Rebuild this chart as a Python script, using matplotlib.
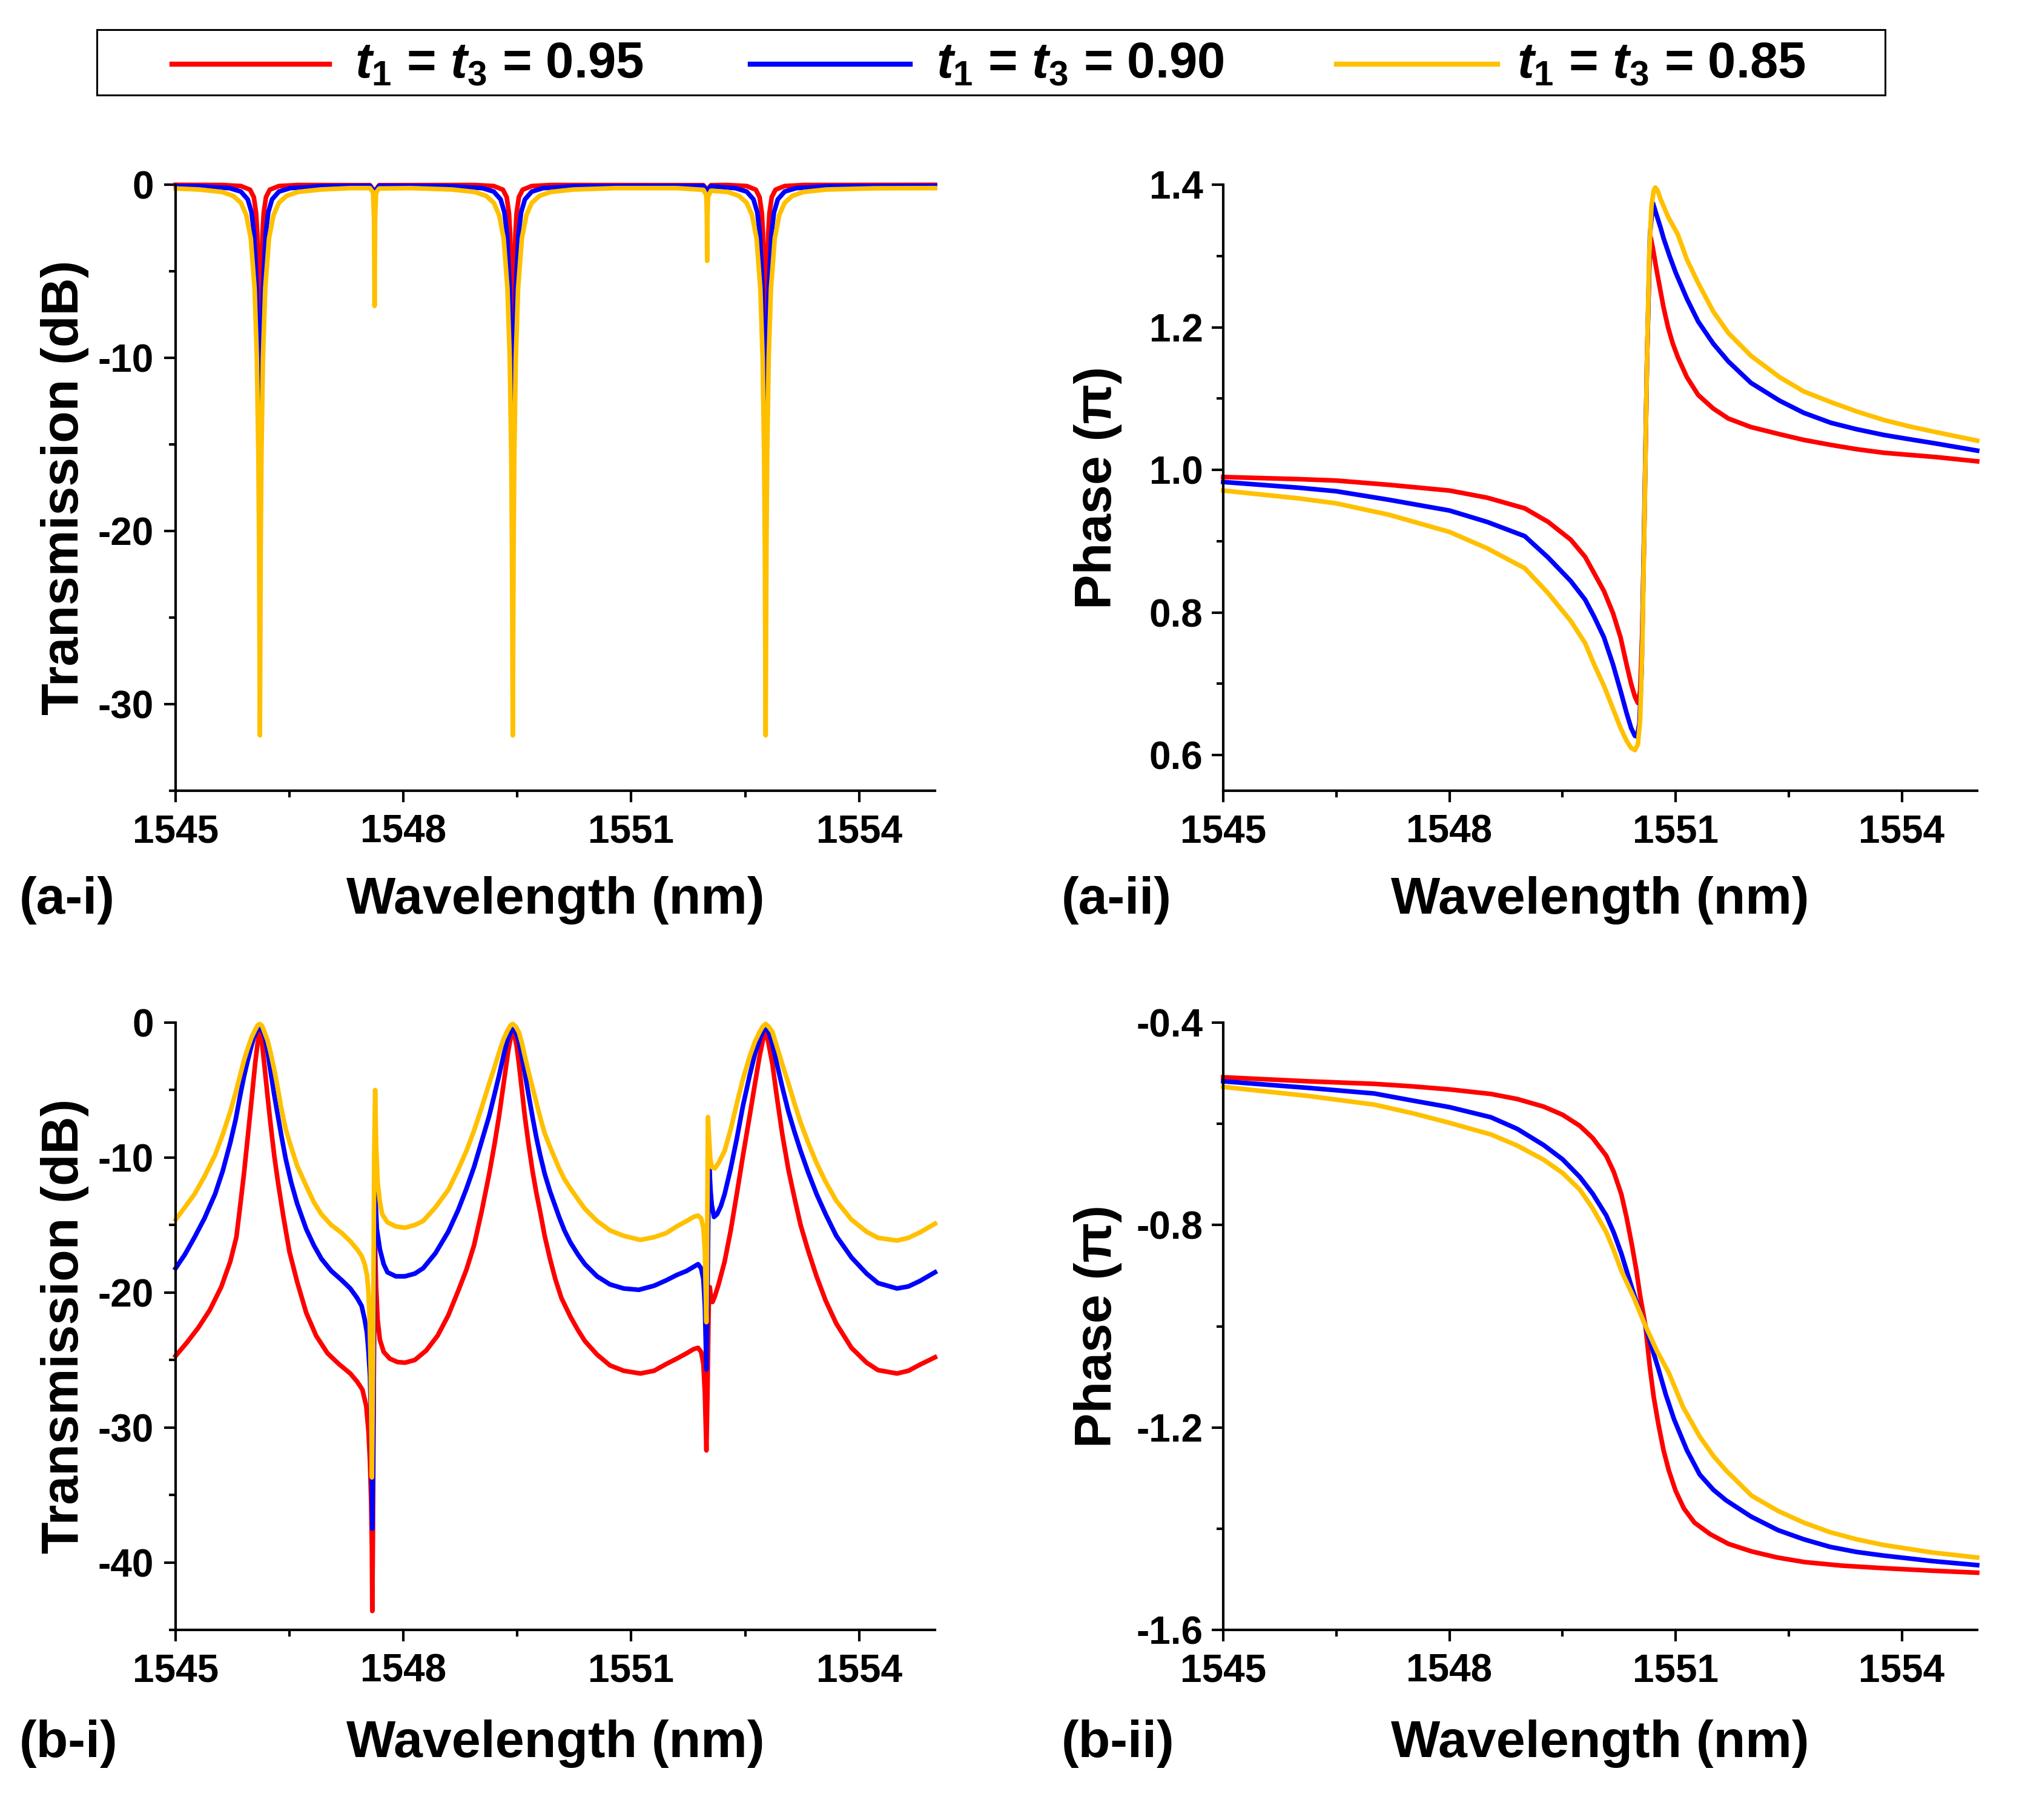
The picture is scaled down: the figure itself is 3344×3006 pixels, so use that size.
import matplotlib
matplotlib.use('Agg')
import matplotlib.pyplot as plt
from matplotlib.lines import Line2D
from matplotlib.patches import Rectangle
from matplotlib.ticker import FixedLocator

plt.rcParams['font.family'] = ['Liberation Sans', 'DejaVu Sans']
plt.rcParams['font.weight'] = 'bold'
plt.rcParams['axes.unicode_minus'] = False
plt.rcParams['mathtext.fontset'] = 'custom'
plt.rcParams['mathtext.it'] = 'Liberation Sans:bold:italic'
plt.rcParams['mathtext.rm'] = 'Liberation Sans:bold'
plt.rcParams['mathtext.bf'] = 'Liberation Sans:bold'

# ---------------- data ----------------
series_labels = [r'$\mathit{t_1}$ = $\mathit{t_3}$ = 0.95',
                 r'$\mathit{t_1}$ = $\mathit{t_3}$ = 0.90',
                 r'$\mathit{t_1}$ = $\mathit{t_3}$ = 0.85']
series_colors = ['#FF0000', '#0000FF', '#FFC000']

x_ticks = [1545, 1548, 1551, 1554]

# (a-i) transmission, dB
ai_red_x = [1545.0, 1545.61, 1545.86, 1545.98, 1546.03, 1546.06, 1546.075, 1546.085, 1546.095, 1546.103, 1546.11,
            1546.117, 1546.125, 1546.135, 1546.145, 1546.16, 1546.19, 1546.24, 1546.36, 1546.61, 1547.56, 1547.62,
            1547.68, 1548.94, 1549.19, 1549.31, 1549.36, 1549.39, 1549.405, 1549.415, 1549.425, 1549.433, 1549.44,
            1549.447, 1549.455, 1549.465, 1549.475, 1549.49, 1549.52, 1549.57, 1549.69, 1549.94, 1551.95, 1552.0,
            1552.05, 1552.27, 1552.52, 1552.64, 1552.69, 1552.72, 1552.735, 1552.745, 1552.755, 1552.763, 1552.77,
            1552.777, 1552.785, 1552.795, 1552.805, 1552.82, 1552.85, 1552.9, 1553.02, 1553.27, 1555.0]
ai_red_y = [-0.01, -0.02, -0.08, -0.29, -0.72, -1.64, -2.8, -4.35, -7.1, -10.9, -14.0,
            -10.9, -7.1, -4.35, -2.8, -1.64, -0.72, -0.29, -0.08, -0.02, -0.03, -0.4,
            -0.03, -0.02, -0.08, -0.29, -0.72, -1.64, -2.8, -4.35, -7.1, -10.9, -14.0,
            -10.9, -7.1, -4.35, -2.8, -1.64, -0.72, -0.29, -0.08, -0.02, -0.03, -0.3,
            -0.03, -0.02, -0.08, -0.29, -0.72, -1.64, -2.8, -4.35, -7.1, -10.9, -14.0,
            -10.9, -7.1, -4.35, -2.8, -1.64, -0.72, -0.29, -0.08, -0.02, -0.01]

ai_blue_x = [1545.0, 1545.31, 1545.71, 1545.86, 1545.95, 1546.0, 1546.035, 1546.07, 1546.09, 1546.10, 1546.11,
             1546.12, 1546.13, 1546.15, 1546.185, 1546.22, 1546.27, 1546.36, 1546.51, 1546.91, 1547.56, 1547.62,
             1547.68, 1548.64, 1549.04, 1549.19, 1549.28, 1549.33, 1549.365, 1549.40, 1549.42, 1549.43, 1549.44,
             1549.45, 1549.46, 1549.48, 1549.515, 1549.55, 1549.60, 1549.69, 1549.84, 1550.24, 1551.95, 1552.0,
             1552.05, 1552.37, 1552.52, 1552.61, 1552.66, 1552.695, 1552.73, 1552.75, 1552.76, 1552.77,
             1552.78, 1552.79, 1552.81, 1552.845, 1552.88, 1552.93, 1553.02, 1553.17, 1553.57, 1555.0]
ai_blue_y = [-0.08, -0.09, -0.2, -0.4, -0.85, -1.6, -2.9, -6.1, -10.1, -13.0, -14.8,
             -13.0, -10.1, -6.1, -2.9, -1.6, -0.85, -0.4, -0.2, -0.09, -0.07, -0.45,
             -0.07, -0.09, -0.2, -0.4, -0.85, -1.6, -2.9, -6.1, -10.1, -13.0, -14.8,
             -13.0, -10.1, -6.1, -2.9, -1.6, -0.85, -0.4, -0.2, -0.09, -0.08, -0.35,
             -0.09, -0.2, -0.4, -0.85, -1.6, -2.9, -6.1, -10.1, -13.0, -14.8,
             -13.0, -10.1, -6.1, -2.9, -1.6, -0.85, -0.4, -0.2, -0.09, -0.07]

ai_yel_x = [1545.0, 1545.31, 1545.61, 1545.76, 1545.86, 1545.93, 1545.99, 1546.04, 1546.07, 1546.09, 1546.10,
            1546.106, 1546.11, 1546.114, 1546.12, 1546.13, 1546.15, 1546.18, 1546.23, 1546.29, 1546.36, 1546.46,
            1546.61, 1546.91, 1547.3, 1547.56, 1547.60, 1547.613, 1547.62, 1547.627, 1547.64, 1547.68, 1548.1,
            1548.64, 1548.94, 1549.09, 1549.19, 1549.26, 1549.32, 1549.37, 1549.40, 1549.42, 1549.43, 1549.436,
            1549.44, 1549.444, 1549.45, 1549.46, 1549.48, 1549.51, 1549.56, 1549.62, 1549.69, 1549.79, 1549.94,
            1550.24, 1550.8, 1551.6, 1551.95, 1551.988, 1551.996, 1552.0, 1552.004, 1552.012, 1552.05, 1552.27,
            1552.42, 1552.52, 1552.59, 1552.65, 1552.70, 1552.73, 1552.75, 1552.76, 1552.766, 1552.77, 1552.774,
            1552.78, 1552.79, 1552.81, 1552.84, 1552.89, 1552.95, 1553.02, 1553.12, 1553.27, 1553.57, 1554.2,
            1555.0]
ai_yel_y = [-0.22, -0.28, -0.42, -0.65, -1.05, -1.75, -3.1, -6.0, -10.0, -15.6, -21.2,
            -27.5, -31.8, -27.5, -21.2, -15.6, -10.0, -6.0, -3.1, -1.75, -1.05, -0.65,
            -0.42, -0.28, -0.2, -0.2, -0.45, -2.0, -7.0, -2.0, -0.45, -0.22, -0.2,
            -0.28, -0.42, -0.65, -1.05, -1.75, -3.1, -6.0, -10.0, -15.6, -21.2, -27.5,
            -31.8, -27.5, -21.2, -15.6, -10.0, -6.0, -3.1, -1.75, -1.05, -0.65, -0.42,
            -0.28, -0.2, -0.2, -0.3, -0.6, -1.8, -4.4, -1.8, -0.7, -0.35, -0.42,
            -0.65, -1.05, -1.75, -3.1, -6.0, -10.0, -15.6, -21.2, -27.5, -31.8, -27.5,
            -21.2, -15.6, -10.0, -6.0, -3.1, -1.75, -1.05, -0.65, -0.42, -0.28, -0.21,
            -0.2]

# (a-ii) phase, units of pi
aii_red_x = [1545.0, 1546.0, 1546.5, 1547.2, 1548.0, 1548.5, 1549.0, 1549.31, 1549.61, 1549.8, 1549.92,
             1550.05, 1550.17, 1550.27, 1550.35, 1550.41, 1550.46, 1550.5, 1550.53, 1550.56, 1550.59, 1550.62,
             1550.65, 1550.67, 1550.7, 1550.74, 1550.78, 1550.84, 1550.9, 1550.96, 1551.03, 1551.15, 1551.3,
             1551.5, 1551.7, 1552.0, 1552.38, 1552.7, 1553.06, 1553.4, 1553.76, 1554.1, 1554.45, 1555.0]
aii_red_y = [0.990, 0.987, 0.985, 0.979, 0.971, 0.961, 0.946, 0.927, 0.902, 0.878, 0.855,
             0.830, 0.799, 0.765, 0.727, 0.700, 0.682, 0.673, 0.690, 0.780, 0.950, 1.150,
             1.280, 1.326, 1.310, 1.285, 1.262, 1.228, 1.200, 1.178, 1.158, 1.130, 1.105,
             1.086, 1.072, 1.060, 1.050, 1.042, 1.035, 1.029, 1.024, 1.021, 1.018, 1.012]
aii_blue_x = [1545.0, 1546.0, 1546.5, 1547.2, 1548.0, 1548.5, 1549.0, 1549.31, 1549.61, 1549.8, 1549.92,
              1550.05, 1550.17, 1550.27, 1550.35, 1550.41, 1550.46, 1550.49, 1550.52, 1550.55, 1550.58, 1550.62,
              1550.66, 1550.70, 1550.74, 1550.8, 1550.84, 1550.92, 1551.0, 1551.15, 1551.3, 1551.5, 1551.7,
              1552.0, 1552.38, 1552.7, 1553.06, 1553.4, 1553.76, 1554.1, 1554.45, 1555.0]
aii_blue_y = [0.983, 0.975, 0.970, 0.958, 0.943, 0.927, 0.907, 0.877, 0.844, 0.818, 0.794,
              0.765, 0.727, 0.690, 0.659, 0.638, 0.627, 0.626, 0.645, 0.720, 0.900, 1.150,
              1.330, 1.374, 1.360, 1.340, 1.325, 1.300, 1.277, 1.240, 1.208, 1.177, 1.152,
              1.122, 1.097, 1.080, 1.066, 1.057, 1.049, 1.043, 1.037, 1.027]
aii_yel_x = [1545.0, 1546.0, 1546.5, 1547.2, 1548.0, 1548.5, 1549.0, 1549.31, 1549.61, 1549.8, 1549.92,
             1550.05, 1550.17, 1550.27, 1550.35, 1550.41, 1550.46, 1550.5, 1550.53, 1550.56, 1550.59, 1550.62,
             1550.65, 1550.68, 1550.71, 1550.73, 1550.76, 1550.8, 1550.9, 1551.03, 1551.15, 1551.3, 1551.5,
             1551.7, 1552.0, 1552.38, 1552.7, 1553.06, 1553.4, 1553.76, 1554.1, 1554.45, 1555.0]
aii_yel_y = [0.971, 0.960, 0.953, 0.937, 0.913, 0.890, 0.862, 0.827, 0.788, 0.757, 0.727,
             0.697, 0.665, 0.638, 0.620, 0.610, 0.607, 0.615, 0.650, 0.760, 0.950, 1.150,
             1.300, 1.370, 1.392, 1.396, 1.392, 1.380, 1.355, 1.330, 1.295, 1.262, 1.222,
             1.192, 1.160, 1.130, 1.110, 1.095, 1.082, 1.070, 1.061, 1.053, 1.041]

# (b-i) transmission, dB
bi_red_x = [1545.0, 1545.15, 1545.3, 1545.45, 1545.6, 1545.72, 1545.8, 1545.85, 1545.9, 1545.95, 1545.99,
            1546.02, 1546.05, 1546.08, 1546.1, 1546.11, 1546.12, 1546.14, 1546.17, 1546.21, 1546.25, 1546.3,
            1546.35, 1546.42, 1546.5, 1546.6, 1546.72, 1546.85, 1547.0, 1547.15, 1547.3, 1547.39, 1547.46,
            1547.51, 1547.54, 1547.56, 1547.575, 1547.585, 1547.59, 1547.598, 1547.61, 1547.625, 1547.64,
            1547.66, 1547.69, 1547.74, 1547.82, 1547.92, 1548.02, 1548.15, 1548.3, 1548.45, 1548.59, 1548.72,
            1548.83, 1548.93, 1549.03, 1549.13, 1549.2, 1549.26, 1549.31, 1549.35, 1549.38, 1549.41, 1549.43,
            1549.44, 1549.46, 1549.49, 1549.52, 1549.56, 1549.6, 1549.65, 1549.7, 1549.75, 1549.8, 1549.86,
            1549.93, 1550.0, 1550.08, 1550.2, 1550.3, 1550.39, 1550.55, 1550.72, 1550.9, 1551.12, 1551.3,
            1551.46, 1551.6, 1551.73, 1551.82, 1551.88, 1551.92, 1551.95, 1551.97, 1551.99, 1552.005, 1552.02,
            1552.035, 1552.05, 1552.07, 1552.1, 1552.15, 1552.23, 1552.31, 1552.39, 1552.47, 1552.56, 1552.63,
            1552.69, 1552.73, 1552.76, 1552.77, 1552.78, 1552.81, 1552.86, 1552.92, 1552.99, 1553.07, 1553.15,
            1553.23, 1553.33, 1553.44, 1553.56, 1553.7, 1553.9, 1554.1, 1554.25, 1554.5, 1554.65, 1554.8, 1555.0]
bi_red_y = [-24.7, -23.7, -22.6, -21.3, -19.6, -17.7, -15.9, -13.6, -11.2, -8.5, -6.3,
            -4.6, -2.9, -1.5, -0.8, -0.6, -0.8, -1.6, -3.2, -5.4, -7.5, -9.9,
            -11.9, -14.4, -17.0, -19.2, -21.5, -23.2, -24.5, -25.3, -26.0, -26.6, -27.2,
            -28.4, -30.3, -32.6, -35.5, -39.0, -43.6, -38.0, -26.0, -16.0, -19.5,
            -22.0, -23.5, -24.4, -24.9, -25.15, -25.2, -25.0, -24.3, -23.2, -21.7, -19.9,
            -18.3, -16.5, -14.0, -11.2, -9.0, -6.9, -4.9, -3.3, -2.1, -1.2, -0.75,
            -0.6, -0.9, -1.7, -3.0, -5.0, -7.0, -9.1, -11.0, -12.6, -14.0, -15.8,
            -17.5, -19.0, -20.4, -21.8, -22.8, -23.6, -24.6, -25.4, -25.8, -26.0, -25.8,
            -25.3, -24.9, -24.5, -24.2, -24.1, -24.4, -25.3, -27.5, -31.7, -27.0, -21.0,
            -19.6, -20.4, -20.7, -20.3, -19.4, -17.7, -15.4, -12.7, -9.9, -6.9, -4.5,
            -2.5, -1.4, -0.7, -0.6, -0.7, -1.6, -3.1, -5.6, -8.3, -10.9, -13.0,
            -15.0, -16.9, -18.8, -20.6, -22.3, -24.1, -25.2, -25.75, -26.0, -25.8, -25.35, -24.8]

bi_blue_x = [1545.0, 1545.12, 1545.25, 1545.38, 1545.52, 1545.62, 1545.72, 1545.79, 1545.85, 1545.9, 1545.95,
             1545.99, 1546.03, 1546.07, 1546.11, 1546.15, 1546.18, 1546.21, 1546.25, 1546.3, 1546.35, 1546.39,
             1546.45, 1546.52, 1546.6, 1546.72, 1546.82, 1546.92, 1547.05, 1547.19, 1547.3, 1547.39, 1547.45,
             1547.49, 1547.52, 1547.54, 1547.56, 1547.575, 1547.59, 1547.6, 1547.613, 1547.625, 1547.635,
             1547.65, 1547.69, 1547.74, 1547.79, 1547.9, 1548.02, 1548.15, 1548.26, 1548.42, 1548.59, 1548.72,
             1548.83, 1548.93, 1549.03, 1549.13, 1549.2, 1549.26, 1549.32, 1549.36, 1549.39, 1549.44, 1549.48,
             1549.52, 1549.56, 1549.6, 1549.65, 1549.7, 1549.75, 1549.8, 1549.86, 1549.93, 1550.05, 1550.12,
             1550.2, 1550.3, 1550.39, 1550.55, 1550.72, 1550.9, 1551.1, 1551.3, 1551.46, 1551.6, 1551.73,
             1551.82, 1551.88, 1551.92, 1551.95, 1551.97, 1551.99, 1552.0, 1552.015, 1552.03, 1552.045, 1552.06,
             1552.09, 1552.13, 1552.18, 1552.23, 1552.31, 1552.39, 1552.47, 1552.56, 1552.63, 1552.69, 1552.73,
             1552.77, 1552.81, 1552.86, 1552.92, 1552.99, 1553.07, 1553.15, 1553.23, 1553.33, 1553.44, 1553.56,
             1553.7, 1553.9, 1554.1, 1554.25, 1554.5, 1554.65, 1554.8, 1555.0]
bi_blue_y = [-18.2, -17.2, -15.9, -14.5, -12.7, -11.0, -8.9, -7.2, -5.4, -4.0, -2.8,
             -1.9, -1.1, -0.6, -0.35, -0.7, -1.2, -2.1, -3.6, -5.4, -7.0, -8.3,
             -10.1, -11.8, -13.4, -15.3, -16.5, -17.5, -18.4, -19.1, -19.7, -20.4, -21.0,
             -22.0, -23.0, -24.4, -26.2, -30.0, -37.5, -33.0, -20.0, -11.8, -13.5,
             -15.3, -16.8, -17.9, -18.5, -18.8, -18.8, -18.6, -18.2, -17.1, -15.5, -13.9,
             -12.3, -10.7, -8.8, -6.9, -5.3, -3.9, -2.4, -1.5, -1.0, -0.35, -0.7,
             -1.4, -2.5, -3.8, -5.4, -7.0, -8.5, -9.8, -11.2, -12.5, -14.4, -15.4,
             -16.3, -17.2, -17.9, -18.8, -19.4, -19.7, -19.8, -19.5, -19.1, -18.7, -18.4,
             -18.1, -17.9, -18.2, -19.0, -21.0, -25.7, -22.0, -14.0, -10.9, -12.5, -13.5,
             -14.4, -14.2, -13.6, -12.7, -10.8, -8.6, -6.2, -3.9, -2.3, -1.3, -0.7,
             -0.35, -0.7, -1.6, -3.1, -4.8, -6.6, -8.1, -9.5, -11.1, -12.7, -14.2,
             -15.8, -17.4, -18.6, -19.3, -19.7, -19.55, -19.15, -18.5]

bi_yel_x = [1545.0, 1545.12, 1545.25, 1545.38, 1545.52, 1545.62, 1545.72, 1545.79, 1545.85, 1545.9, 1545.95,
            1546.0, 1546.05, 1546.08, 1546.11, 1546.14, 1546.17, 1546.21, 1546.25, 1546.3, 1546.35, 1546.39,
            1546.45, 1546.52, 1546.6, 1546.72, 1546.82, 1546.92, 1547.05, 1547.19, 1547.3, 1547.39, 1547.45,
            1547.49, 1547.52, 1547.54, 1547.555, 1547.57, 1547.585, 1547.6, 1547.615, 1547.628, 1547.64,
            1547.66, 1547.69, 1547.72, 1547.79, 1547.9, 1548.02, 1548.15, 1548.26, 1548.42, 1548.59, 1548.72,
            1548.83, 1548.93, 1549.03, 1549.13, 1549.2, 1549.26, 1549.32, 1549.37, 1549.41, 1549.44, 1549.48,
            1549.52, 1549.56, 1549.6, 1549.65, 1549.7, 1549.75, 1549.8, 1549.86, 1549.93, 1550.05, 1550.12,
            1550.2, 1550.3, 1550.39, 1550.55, 1550.72, 1550.9, 1551.12, 1551.3, 1551.46, 1551.6, 1551.73,
            1551.82, 1551.88, 1551.92, 1551.95, 1551.97, 1551.99, 1552.0, 1552.01, 1552.025, 1552.04, 1552.06,
            1552.1, 1552.15, 1552.23, 1552.31, 1552.39, 1552.47, 1552.56, 1552.63, 1552.69, 1552.73, 1552.77,
            1552.81, 1552.86, 1552.92, 1552.99, 1553.07, 1553.15, 1553.23, 1553.33, 1553.44, 1553.56, 1553.7,
            1553.9, 1554.1, 1554.25, 1554.5, 1554.65, 1554.8, 1555.0]
bi_yel_y = [-14.6, -13.7, -12.7, -11.4, -9.8, -8.3, -6.6, -5.2, -3.9, -2.8, -1.9,
            -1.1, -0.5, -0.2, -0.1, -0.25, -0.7, -1.3, -2.2, -3.5, -5.0, -6.3,
            -7.9, -9.2, -10.6, -12.1, -13.3, -14.2, -15.0, -15.6, -16.2, -16.8, -17.3,
            -17.9, -18.7, -20.0, -22.0, -26.0, -33.7, -25.0, -10.0, -5.0, -9.0,
            -11.8, -13.3, -14.2, -14.8, -15.1, -15.2, -15.0, -14.7, -13.7, -12.4, -10.9,
            -9.5, -8.0, -6.3, -4.5, -3.3, -2.2, -1.2, -0.6, -0.2, -0.1, -0.3,
            -0.7, -1.5, -2.5, -3.7, -4.8, -5.9, -7.0, -8.2, -9.2, -10.8, -11.6,
            -12.3, -13.1, -13.8, -14.7, -15.4, -15.8, -16.1, -15.9, -15.6, -15.1, -14.7,
            -14.4, -14.3, -14.5, -15.2, -17.0, -22.2, -16.0, -7.0, -8.5, -10.0, -10.7,
            -10.8, -10.4, -9.5, -7.9, -6.0, -4.2, -2.5, -1.4, -0.7, -0.3, -0.1,
            -0.3, -0.7, -1.8, -3.1, -4.5, -6.0, -7.4, -8.9, -10.4, -11.8, -13.2,
            -14.6, -15.5, -15.95, -16.15, -15.95, -15.55, -14.9]

# (b-ii) phase, units of pi
bii_red_x = [1545.0, 1546.13, 1547.0, 1547.51, 1548.0, 1548.55, 1548.9, 1549.25, 1549.5, 1549.73, 1549.9,
             1550.08, 1550.18, 1550.28, 1550.35, 1550.42, 1550.48, 1550.53, 1550.6, 1550.66, 1550.71, 1550.77,
             1550.84, 1550.91, 1551.0, 1551.11, 1551.25, 1551.46, 1551.7, 1552.01, 1552.35, 1552.71, 1553.2,
             1553.75, 1554.4, 1555.0]
bii_red_y = [-0.508, -0.516, -0.521, -0.526, -0.532, -0.541, -0.551, -0.566, -0.582, -0.604, -0.628,
             -0.663, -0.695, -0.739, -0.785, -0.839, -0.890, -0.940, -0.999, -1.083, -1.140, -1.192,
             -1.245, -1.285, -1.325, -1.360, -1.388, -1.411, -1.430, -1.445, -1.457, -1.466, -1.473,
             -1.478, -1.483, -1.487]
bii_blue_x = [1545.0, 1546.13, 1547.0, 1547.51, 1548.0, 1548.55, 1548.9, 1549.25, 1549.5, 1549.73, 1549.9,
              1550.08, 1550.18, 1550.28, 1550.35, 1550.42, 1550.5, 1550.6, 1550.68, 1550.77, 1550.87, 1550.98,
              1551.15, 1551.32, 1551.5, 1551.67, 1552.0, 1552.36, 1552.7, 1553.05, 1553.4, 1553.75, 1554.4,
              1555.0]
bii_blue_y = [-0.516, -0.529, -0.540, -0.554, -0.567, -0.587, -0.610, -0.642, -0.670, -0.705, -0.738,
              -0.781, -0.815, -0.856, -0.890, -0.924, -0.960, -0.999, -1.040, -1.083, -1.135, -1.184,
              -1.245, -1.293, -1.323, -1.344, -1.376, -1.403, -1.421, -1.436, -1.446, -1.453, -1.464,
              -1.472]
bii_yel_x = [1545.0, 1546.13, 1547.0, 1547.51, 1548.0, 1548.55, 1548.9, 1549.25, 1549.5, 1549.73, 1549.9,
             1550.08, 1550.18, 1550.28, 1550.45, 1550.6, 1550.75, 1550.91, 1551.1, 1551.32, 1551.5, 1551.67,
             1552.01, 1552.36, 1552.7, 1553.05, 1553.4, 1553.75, 1554.4, 1555.0]
bii_yel_y = [-0.527, -0.545, -0.562, -0.579, -0.598, -0.621, -0.643, -0.671, -0.697, -0.730, -0.767,
             -0.814, -0.850, -0.890, -0.945, -0.999, -1.048, -1.092, -1.160, -1.218, -1.256, -1.285,
             -1.335, -1.365, -1.388, -1.407, -1.421, -1.432, -1.447, -1.457]

# ---------------- figure ----------------
W, H = 3344, 3006
fig = plt.figure(figsize=(W / 100, H / 100), dpi=100)

def fx(px):
    return px / W

def fy(py):
    return 1 - py / H

LW = 5.5
TICK_FS = 46
LABEL_FS = 62

top_a, bot_a = 305, 1306
top_b, bot_b = 1689, 2692
left_l, right_l = 290, 1544
left_r, right_r = 2020, 3265

ax_ai = fig.add_axes([fx(left_l), fy(bot_a), fx(right_l - left_l), (bot_a - top_a) / H])
ax_aii = fig.add_axes([fx(left_r), fy(bot_a), fx(right_r - left_r), (bot_a - top_a) / H])
ax_bi = fig.add_axes([fx(left_l), fy(bot_b), fx(right_l - left_l), (bot_b - top_b) / H])
ax_bii = fig.add_axes([fx(left_r), fy(bot_b), fx(right_r - left_r), (bot_b - top_b) / H])


def style(ax, ylim, yticks, yminor, ylabel, ylab_x, xlab_y, yfmt, ypad):
    ax.set_xlim(1545, 1555)
    ax.set_ylim(*ylim)
    ax.set_xticks(x_ticks)
    ax.set_xticklabels([str(v) for v in x_ticks])
    ax.xaxis.set_minor_locator(FixedLocator([1546.5, 1549.5, 1552.5]))
    ax.set_yticks(yticks)
    ax.set_yticklabels([yfmt.format(v) for v in yticks])
    ax.yaxis.set_minor_locator(FixedLocator(yminor))
    for s in ['top', 'right']:
        ax.spines[s].set_visible(False)
    for s in ['left', 'bottom']:
        ax.spines[s].set_linewidth(3.0)
    ax.tick_params(which='major', direction='out', length=14, width=3, labelsize=TICK_FS)
    ax.tick_params(which='minor', direction='out', length=8, width=3)
    ax.tick_params(axis='x', which='major', pad=14)
    ax.tick_params(axis='y', which='major', pad=ypad)
    for lab in ax.get_xticklabels() + ax.get_yticklabels():
        lab.set_fontweight('bold')
    ax.set_xlabel('Wavelength (nm)', fontsize=LABEL_FS, fontweight='bold')
    ax.xaxis.set_label_coords(0.5, xlab_y)
    ax.xaxis.label.set_va('center')
    ax.set_ylabel(ylabel, fontsize=LABEL_FS, fontweight='bold')
    ax.yaxis.set_label_coords(ylab_x, 0.5)
    ax.yaxis.label.set_va('center')


def draw(ax, data):
    for (xs, ys), c in zip(data, series_colors):
        ax.plot(xs, ys, color=c, lw=LW, clip_on=False, solid_joinstyle='round')


draw(ax_ai, [(ai_red_x, ai_red_y), (ai_blue_x, ai_blue_y), (ai_yel_x, ai_yel_y)])
draw(ax_aii, [(aii_red_x, aii_red_y), (aii_blue_x, aii_blue_y), (aii_yel_x, aii_yel_y)])
draw(ax_bi, [(bi_red_x, bi_red_y), (bi_blue_x, bi_blue_y), (bi_yel_x, bi_yel_y)])
draw(ax_bii, [(bii_red_x, bii_red_y), (bii_blue_x, bii_blue_y), (bii_yel_x, bii_yel_y)])

xlab_a = -(1487 - bot_a) / (bot_a - top_a)
xlab_b = -(2880 - bot_b) / (bot_b - top_b)

style(ax_ai, (-35, 0), [0, -10, -20, -30], [-5, -15, -25, -35], 'Transmission (dB)',
      (107 - left_l) / (right_l - left_l), xlab_a, '{:d}', 12)
style(ax_aii, (0.55, 1.4), [0.6, 0.8, 1.0, 1.2, 1.4], [0.7, 0.9, 1.1, 1.3], 'Phase (π)',
      (1813 - left_r) / (right_r - left_r), xlab_a, '{:.1f}', 10)
style(ax_bi, (-45, 0), [0, -10, -20, -30, -40], [-5, -15, -25, -35, -45], 'Transmission (dB)',
      (107 - left_l) / (right_l - left_l), xlab_b, '{:d}', 12)
style(ax_bii, (-1.6, -0.4), [-0.4, -0.8, -1.2, -1.6], [-0.6, -1.0, -1.4], 'Phase (π)',
      (1813 - left_r) / (right_r - left_r), xlab_b, '{:.1f}', 10)

# panel labels
for txt, px, py in [('(a-i)', 32, 1487), ('(a-ii)', 1753, 1487), ('(b-i)', 32, 2880), ('(b-ii)', 1753, 2880)]:
    fig.text(fx(px), fy(py), txt, fontsize=LABEL_FS, fontweight='bold', ha='left', va='center')

# legend (top box)
box = Rectangle((fx(160), fy(157)), fx(3113 - 160), (157 - 49) / H, transform=fig.transFigure,
                fill=False, edgecolor='black', linewidth=2.2)
fig.add_artist(box)
leg_y = fy(106)
for (x0, x1, xt), lab, c in zip([(284, 544, 586), (1239, 1503, 1546), (2207, 2473, 2505)],
                                series_labels, series_colors):
    fig.add_artist(Line2D([fx(x0), fx(x1)], [leg_y, leg_y], transform=fig.transFigure, color=c, lw=6))
    fig.text(fx(xt), leg_y, lab, fontsize=60, fontweight='bold', ha='left', va='center')

fig.savefig('out.png', dpi=100)
